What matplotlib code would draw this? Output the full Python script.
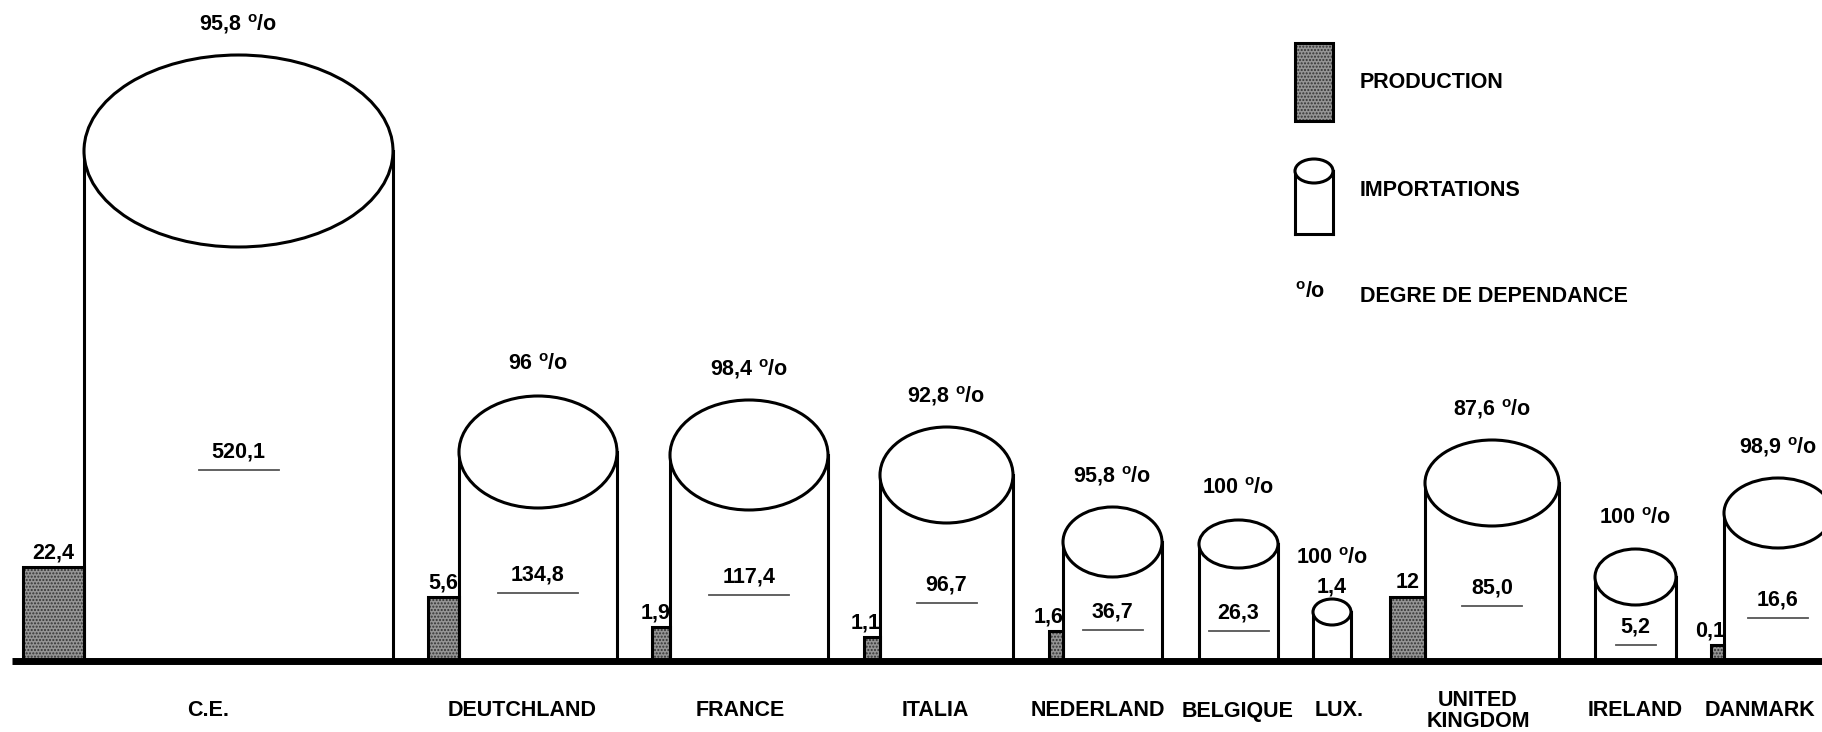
import matplotlib
matplotlib.use("Agg")
import matplotlib.pyplot as plt
from matplotlib.patches import Rectangle, Ellipse

# values printed on the chart
countries = ["C.E.", "DEUTCHLAND", "FRANCE", "ITALIA", "NEDERLAND", "BELGIQUE",
             "LUX.", "UNITED\nKINGDOM", "IRELAND", "DANMARK"]
production = [22.4, 5.6, 1.9, 1.1, 1.6, 0, 0, 12, 0, 0.1]
imports = [520.1, 134.8, 117.4, 96.7, 36.7, 26.3, 1.4, 85.0, 5.2, 16.6]
dependence = [95.8, 96, 98.4, 92.8, 95.8, 100, 100, 87.6, 100, 98.9]

# pictogram layout as drawn in the original (pixels, y measured up from the base line)
cyl_left = [84, 459, 670, 880, 1063, 1199, 1313, 1425, 1595, 1724]
cyl_w = [309, 158, 158, 133, 99, 79, 38, 134, 81, 108]
cyl_h = [510, 209, 206, 186, 119, 117, 49, 178, 84, 148]
cap_h = [96, 56, 55, 48, 35, 24, 13, 43, 28, 35]
bar_w = [61, 31, 18, 16, 14, 0, 0, 35, 0, 13]
bar_h = [94, 64, 34, 24, 30, 0, 0, 64, 0, 16]
label_x = [208, 522, 740, 935, 1098, 1238, 1339, 1478, 1635, 1760]

plt.rcParams['font.family'] = ['Liberation Sans', 'DejaVu Sans']
plt.rcParams['font.weight'] = 'bold'
plt.rcParams['mathtext.fontset'] = 'custom'
plt.rcParams['mathtext.rm'] = 'Liberation Sans:bold'
plt.rcParams['mathtext.it'] = 'Liberation Sans:bold'
plt.rcParams['mathtext.bf'] = 'Liberation Sans:bold'
plt.rcParams['hatch.linewidth'] = 1.0

W, H, BASE = 1822, 732, 661
FS = 15.5
LW = 2.2

fig = plt.figure(figsize=(W / 100, H / 100), dpi=100)
ax = fig.add_axes([0, 0, 1, 1])
ax.set_xlim(0, W)
ax.set_ylim(BASE - H, BASE)
ax.axis('off')


def num(v, fmt="{:g}"):
    return fmt.format(v).replace('.', ',')


def pct(v):
    return num(v) + r" $^{\mathrm{o}}$/o"


def stipple(x, y, w, h):
    ax.add_patch(Rectangle((x, y), w, h, facecolor='#959595', edgecolor='#333333',
                           hatch='.....', lw=0, zorder=5))
    ax.add_patch(Rectangle((x, y), w, h, facecolor='none', edgecolor='black',
                           lw=LW, zorder=6))


for i, name in enumerate(countries):
    x0, w, h, e = cyl_left[i], cyl_w[i], cyl_h[i], cap_h[i]
    cx = x0 + w / 2

    # importations: cylinder
    ax.add_patch(Rectangle((x0, 0), w, h, facecolor='white', edgecolor='none', zorder=2))
    ax.plot([x0, x0], [0, h], color='black', lw=LW, zorder=3)
    ax.plot([x0 + w, x0 + w], [0, h], color='black', lw=LW, zorder=3)
    ax.add_patch(Ellipse((cx, h), w, 2 * e, facecolor='white', edgecolor='black',
                         lw=LW, zorder=4))

    val = num(imports[i], "{:.1f}")
    if w < 50:
        ax.text(cx, h + e + 12, val, ha='center', va='center', fontsize=FS)
        ax.text(cx, h + e + 41, pct(dependence[i]), ha='center', va='center', fontsize=FS)
    else:
        vy = 0.41 * h
        ax.text(cx, vy, val, ha='center', va='center', fontsize=FS, zorder=7)
        half = (20 * len(val) - 20) / 2
        ax.plot([cx - half, cx + half], [vy - 18, vy - 18], color='#555555', lw=1.3,
                zorder=7)
        ax.text(cx, h + e + 31, pct(dependence[i]), ha='center', va='center', fontsize=FS)

    # production: stippled bar against the cylinder
    if production[i] > 0:
        bw, bh = bar_w[i], bar_h[i]
        stipple(x0 - bw, 0, bw, bh)
        ax.text(x0 - max(bw / 2, 14), bh + 14, num(production[i]),
                ha='center', va='center', fontsize=FS)

    ax.text(label_x[i], -50, name, ha='center', va='center', fontsize=FS,
            linespacing=1.05)

# base line
ax.plot([12, W], [0, 0], color='black', lw=5, solid_capstyle='butt', zorder=8)

# legend
stipple(1295, BASE - 121, 38, 78)
ax.text(1360, BASE - 83, "PRODUCTION", ha='left', va='center', fontsize=FS)
lx, lw_, lh, le = 1295, 38, BASE - 234, 12
ax.add_patch(Rectangle((lx, lh), lw_, 63, facecolor='white', edgecolor='none', zorder=2))
ax.plot([lx, lx], [lh, lh + 63], color='black', lw=LW, zorder=3)
ax.plot([lx + lw_, lx + lw_], [lh, lh + 63], color='black', lw=LW, zorder=3)
ax.plot([lx, lx + lw_], [lh, lh], color='black', lw=LW, zorder=3)
ax.add_patch(Ellipse((lx + lw_ / 2, lh + 63), lw_, 2 * le, facecolor='white',
                     edgecolor='black', lw=LW, zorder=4))
ax.text(1360, BASE - 190, "IMPORTATIONS", ha='left', va='center', fontsize=FS)
ax.text(1295, BASE - 292, r"$^{\mathrm{o}}$/o", ha='left', va='center', fontsize=FS)
ax.text(1360, BASE - 296, "DEGRE DE DEPENDANCE", ha='left', va='center', fontsize=FS)

fig.savefig("out.png", dpi=100, facecolor='white')
